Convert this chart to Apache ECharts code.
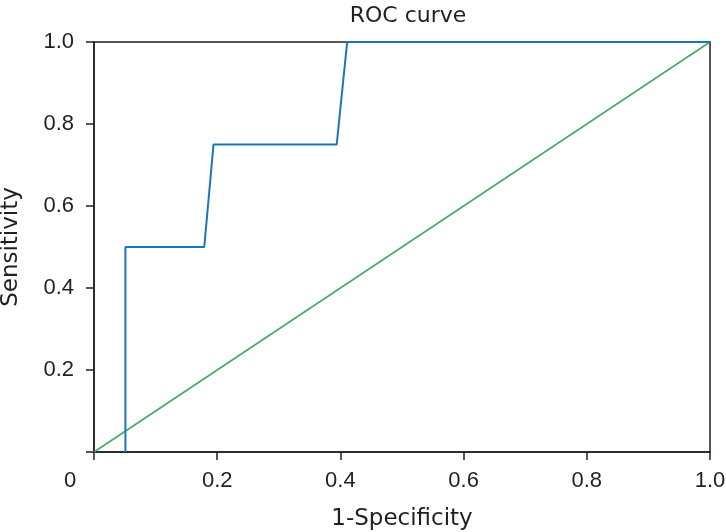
<!DOCTYPE html>
<html><head><meta charset="utf-8">
<script src="https://cdn.jsdelivr.net/npm/echarts@6/dist/echarts.min.js"></script>
<style>html,body{margin:0;padding:0;background:#fff}#c{width:726px;height:532px}</style>
</head><body><div id="c"></div>
<script>
var rocX = [0.051, 0.051, 0.179, 0.194, 0.394, 0.411, 1.0];
var rocY = [0.0, 0.5, 0.5, 0.75, 0.75, 1.0, 1.0];
var refX = [0, 1];
var refY = [0, 1];
var xTicks = [0, 0.2, 0.4, 0.6, 0.8, 1.0];
var yTicks = [0, 0.2, 0.4, 0.6, 0.8, 1.0];

var axisColor = '#231f20';
var wideFont = '"DejaVu Sans", sans-serif';
var tickFont = '"Liberation Sans", Arial, sans-serif';
var chart = echarts.init(document.getElementById('c'));
chart.setOption({
  animation: false,
  title: {text: 'ROC curve', left: 403, top: 0, textAlign: 'center',
    textStyle: {fontSize: 22, fontWeight: 'normal', color: axisColor, fontFamily: wideFont}},
  grid: {left: 94, right: 16, top: 42, bottom: 80, containLabel: false, outerBoundsMode: 'none',
    show: true, borderColor: axisColor, borderWidth: 1.5, backgroundColor: 'transparent'},
  xAxis: {
    type: 'value', min: 0, max: 1, interval: 0.2,
    name: '1-Specificity', nameLocation: 'middle', nameGap: 56,
    nameTextStyle: {fontSize: 23, color: axisColor, fontFamily: wideFont},
    axisLine: {onZero: false, lineStyle: {color: axisColor, width: 1.5}},
    axisTick: {show: true, length: 8, lineStyle: {color: axisColor, width: 1.5}},
    splitLine: {show: false},
    axisLabel: {fontSize: 22, color: axisColor, fontFamily: tickFont, margin: 18,
      formatter: function (v) { return v === 0 ? '{z|0}' : v.toFixed(1); },
      rich: {z: {fontSize: 22, color: axisColor, fontFamily: tickFont, padding: [0, 48, 0, 0]}}}
  },
  yAxis: {
    type: 'value', min: 0, max: 1, interval: 0.2,
    name: 'Sensitivity', nameLocation: 'middle', nameGap: 71, nameRotate: 90,
    nameTextStyle: {fontSize: 23, color: axisColor, fontFamily: wideFont},
    axisLine: {show: true, onZero: false, lineStyle: {color: axisColor, width: 1.5}},
    axisTick: {show: true, length: 8, lineStyle: {color: axisColor, width: 1.5}},
    splitLine: {show: false},
    axisLabel: {fontSize: 22, color: axisColor, fontFamily: tickFont, margin: 20,
      formatter: function (v) { return v === 0 ? '' : v.toFixed(1); }}
  },
  series: [
    {type: 'line', data: refX.map(function (x, i) { return [x, refY[i]]; }),
      showSymbol: false, lineStyle: {color: '#4aa66a', width: 1.6}, z: 2},
    {type: 'line', data: rocX.map(function (x, i) { return [x, rocY[i]]; }),
      showSymbol: false, lineStyle: {color: '#1a74c6', width: 2}, z: 3}
  ]
});
</script></body></html>
